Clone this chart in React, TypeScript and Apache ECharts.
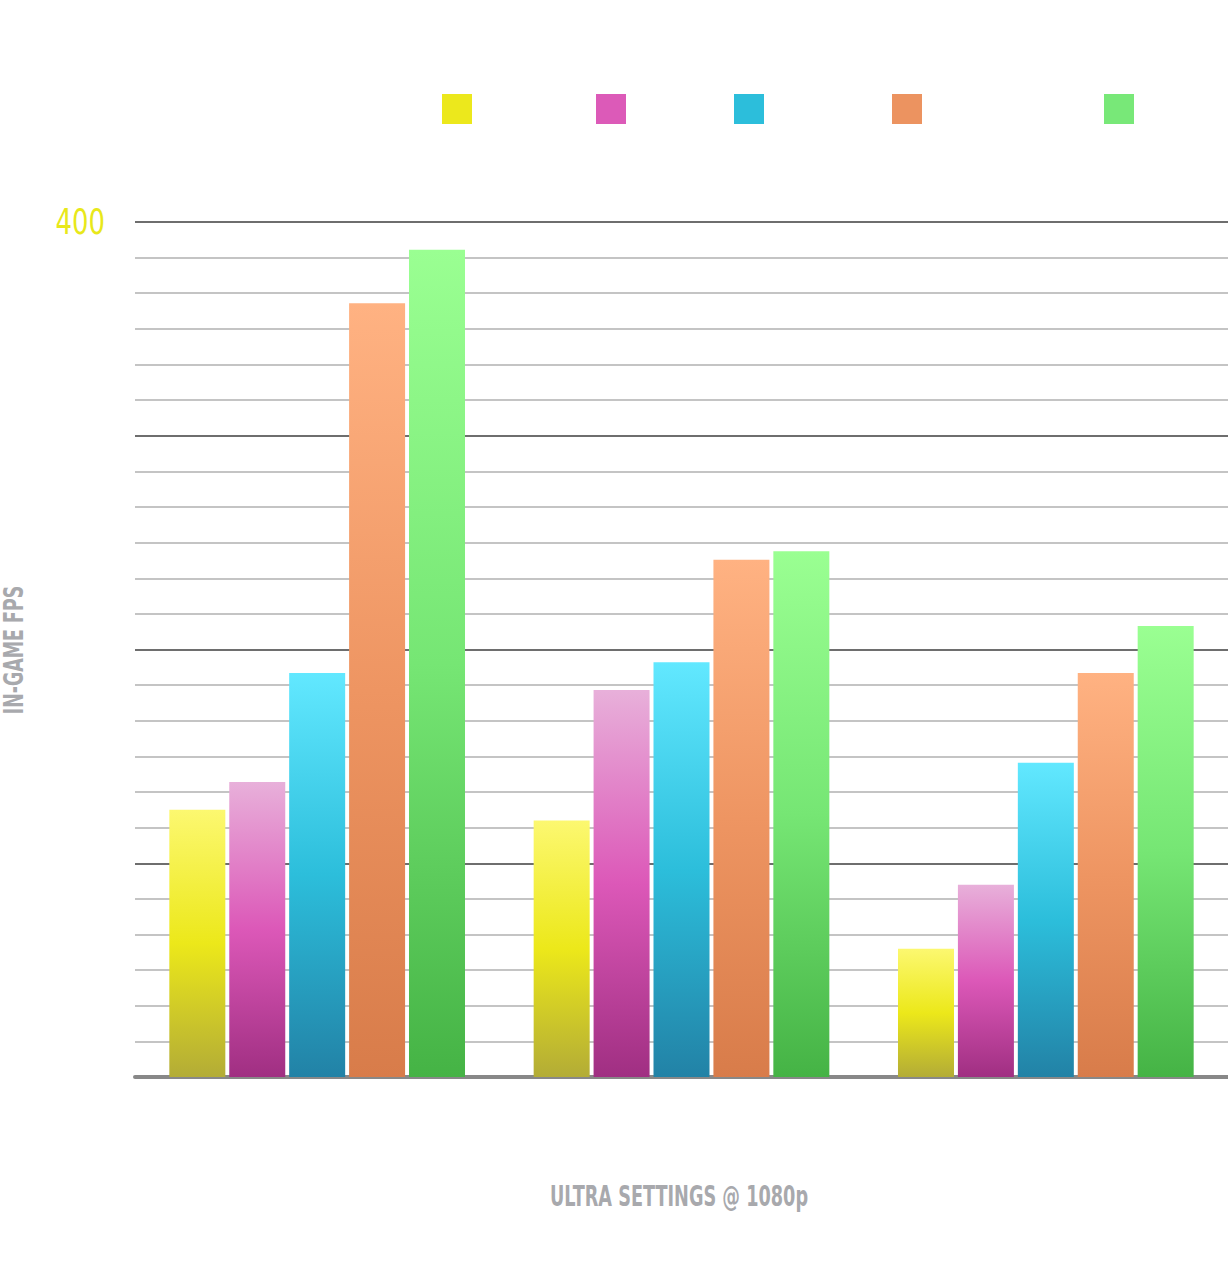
import React, { useEffect, useRef } from "react";
import * as echarts from "echarts";

const categories = ["Game 1", "Game 2", "Game 3"];
const seriesNames = ["GPU A", "GPU B", "GPU C", "GPU D", "GPU E"];
const yellowValues = [125, 120, 60];
const pinkValues = [138, 181, 90];
const blueValues = [189, 194, 147];
const orangeValues = [362, 242, 189];
const greenValues = [387, 246, 211];
const yTickLabels = [400];
const xAxisTitle = "ULTRA SETTINGS @ 1080p";
const yAxisTitle = "IN-GAME FPS";

const seriesValues = [yellowValues, pinkValues, blueValues, orangeValues, greenValues];
const gradients = [
  ["#fcf870", "#ece81a", "#b3ac36"],
  ["#e8b0da", "#dc58b8", "#a02f82"],
  ["#62e8ff", "#2cbedb", "#2282a6"],
  ["#ffb282", "#ee9562", "#d87c4a"],
  ["#9aff92", "#76e674", "#45b345"],
];
const legendColors = ["#ece81c", "#dc5ab8", "#2cbedb", "#ec9360", "#78e878"];
const legendLefts = [442, 596, 734, 892, 1104];

const FONT = "'DejaVu Sans', sans-serif";
const TITLE_COLOR = "#a8a9ad";

export default function App() {
  const ref = useRef<HTMLDivElement>(null);
  useEffect(() => {
    if (!ref.current) return;
    const chart = echarts.init(ref.current, null, { renderer: "svg" });
    chart.setOption({
      animation: false,
      backgroundColor: "#ffffff",
      legend: seriesNames.map((n, i) => ({
        data: [{ name: n, itemStyle: { color: legendColors[i] } }],
        left: legendLefts[i],
        top: 94,
        padding: 0,
        itemWidth: 30,
        itemHeight: 30,
        icon: "rect",
        formatter: () => "",
        selectedMode: false,
      })),
      grid: { left: 135, right: 0, top: 222, bottom: 207, containLabel: false, outerBoundsMode: "none" },
      xAxis: {
        type: "category",
        data: categories,
        axisLine: { show: true, lineStyle: { color: "#888888", width: 4 } },
        axisTick: { show: false },
        axisLabel: { show: false },
      },
      yAxis: {
        type: "value",
        min: 0,
        max: 400,
        interval: 100,
        axisLine: { show: false },
        axisTick: { show: false },
        axisLabel: { show: false },
        splitLine: { show: true, lineStyle: { color: "#6e6e6e", width: 2 } },
        minorTick: { show: false, splitNumber: 6 },
        minorSplitLine: { show: true, lineStyle: { color: "#b0b0b0", width: 1.5 } },
      },
      series: seriesNames.map((n, i) => ({
        name: n,
        type: "bar",
        data: seriesValues[i],
        barWidth: 56,
        barGap: "7%",
        itemStyle: {
          color: new echarts.graphic.LinearGradient(0, 0, 0, 1, [
            { offset: 0, color: gradients[i][0] },
            { offset: 0.5, color: gradients[i][1] },
            { offset: 1, color: gradients[i][2] },
          ]),
        },
      })),
    });

    const tickTexts = yTickLabels.map((v) => {
      const py = chart.convertToPixel({ yAxisIndex: 0 }, v) as number;
      return {
        type: "text",
        x: 105,
        y: py - 1,
        scaleX: 0.72,
        style: {
          text: String(v),
          fill: "#e8e81a",
          font: `normal 36px ${FONT}`,
          textAlign: "right",
          textVerticalAlign: "middle",
        },
      };
    });

    chart.setOption({
      graphic: [
        ...tickTexts,
        {
          type: "text",
          x: 679,
          y: 1196,
          scaleX: 0.61,
          style: {
            text: xAxisTitle,
            fill: TITLE_COLOR,
            font: `bold 29px ${FONT}`,
            textAlign: "center",
            textVerticalAlign: "middle",
          },
        },
        {
          type: "text",
          x: 14,
          y: 650,
          rotation: Math.PI / 2,
          scaleX: 0.67,
          style: {
            text: yAxisTitle,
            fill: TITLE_COLOR,
            font: `bold 26px ${FONT}`,
            textAlign: "center",
            textVerticalAlign: "middle",
          },
        },
      ],
    });
    return () => chart.dispose();
  }, []);
  return (
    <div
      ref={ref}
      style={{ position: "absolute", left: 0, top: 0, width: 1228, height: 1284 }}
    />
  );
}
